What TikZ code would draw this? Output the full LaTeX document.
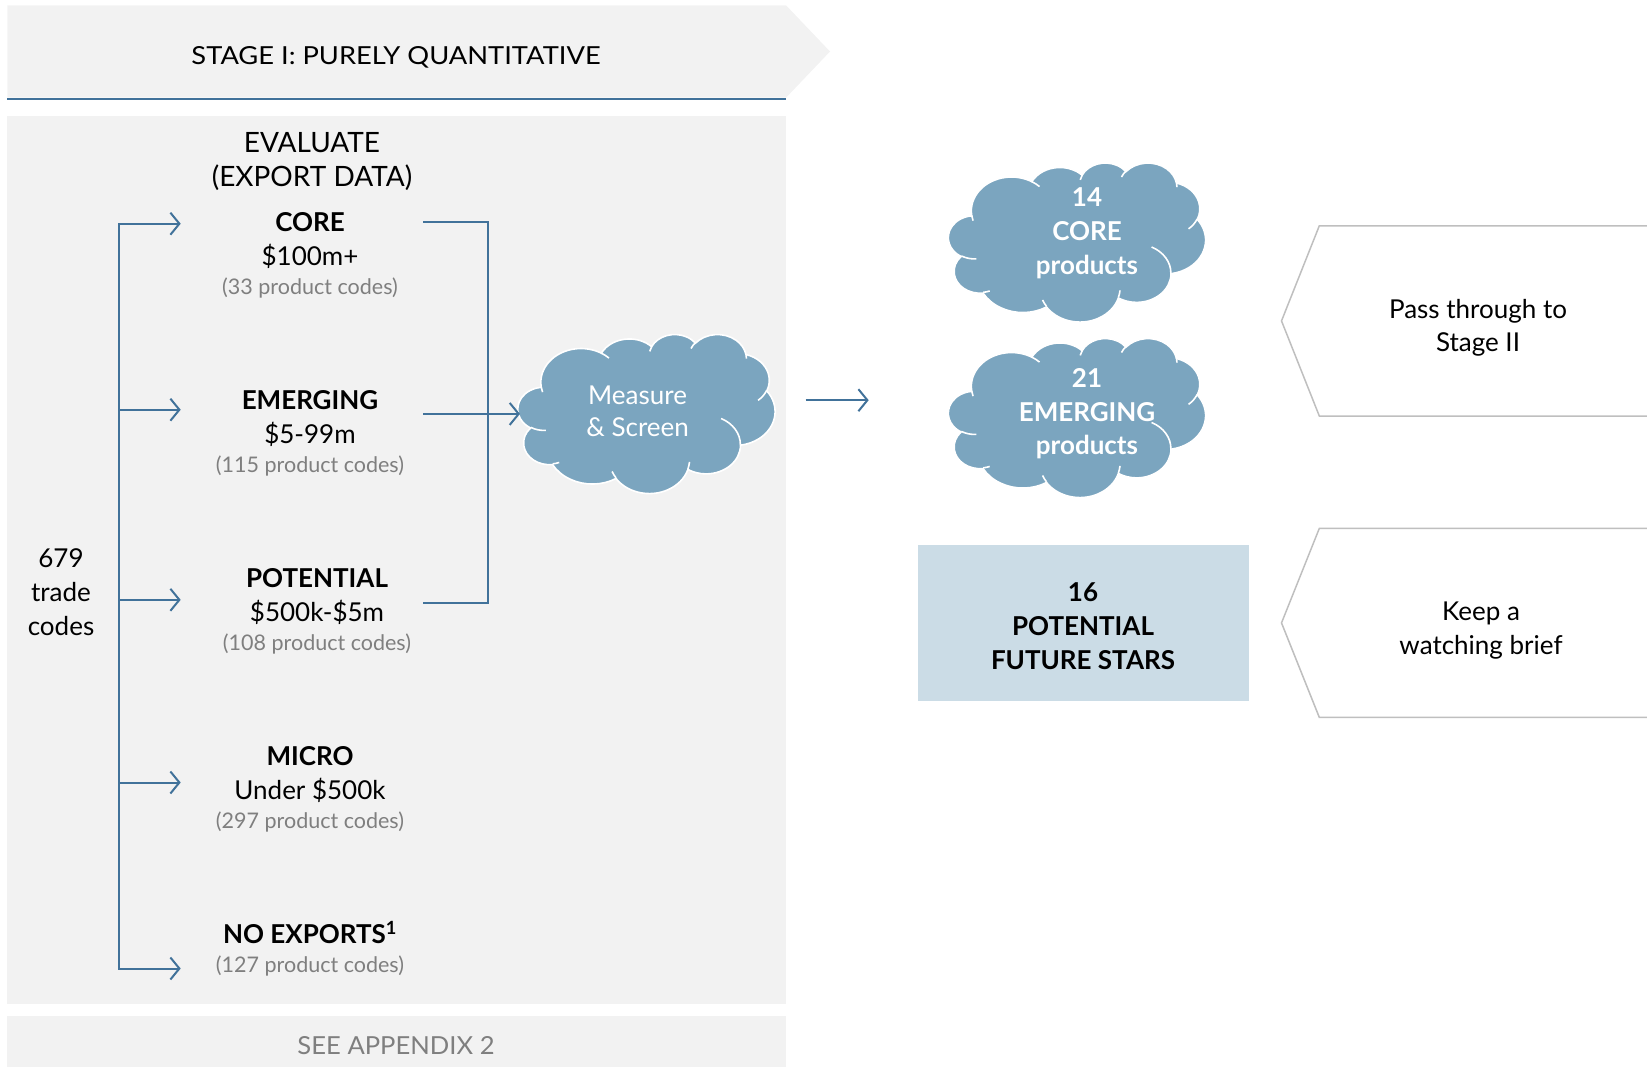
\documentclass[tikz,border=0pt]{standalone}
\usepackage{fontspec}
\setmainfont{Lato}
\usetikzlibrary{arrows.meta}
\definecolor{panel}{HTML}{F2F2F2}
\definecolor{lineblue}{HTML}{41729A}
\definecolor{cloudblue}{HTML}{7BA5BF}
\definecolor{boxblue}{HTML}{CBDCE6}
\definecolor{txtgray}{HTML}{7F7F7F}
\definecolor{hexgray}{HTML}{BFBFBF}
\makeatletter
\def\ooW{257}\def\ooH{159}
\newcommand\oodef[5]{%
  \pgfmathsetmacro\oo@a{#2/43.2*\ooW}%
  \pgfmathsetmacro\oo@b{#3/43.2*\ooH}%
  \pgfmathsetmacro\oo@s{#4}%
  \pgfmathsetmacro\oo@e{#4+#5}%
  \pgfmathsetmacro\oo@ts{\oo@s+Mod(atan2(#2*sin(\oo@s),#3*cos(\oo@s))-\oo@s+180,360)-180}%
  \pgfmathsetmacro\oo@te{\oo@e+Mod(atan2(#2*sin(\oo@e),#3*cos(\oo@e))-\oo@e+180,360)-180}%
  \expandafter\xdef\csname ooarc#1\endcsname{arc[x radius=\oo@a, y radius=\oo@b, start angle=\oo@ts, end angle=\oo@te]}%
}
\newcommand\oopt[2]{({#1/43.2*\ooW},{#2/43.2*\ooH})}
\makeatother
\oodef{A}{6.753}{9.190}{-190.4875}{123.7805}
\oodef{B}{5.333}{7.267}{-144.1024}{89.9452}
\oodef{C}{4.365}{5.945}{-145.8079}{99.7230}
\oodef{D}{4.857}{6.595}{-130.9861}{117.2417}
\oodef{E}{5.333}{7.273}{-78.7089}{109.0269}
\oodef{F}{6.775}{9.220}{-46.2673}{130.2690}
\oodef{G}{5.785}{7.867}{0.6250}{114.0333}
\oodef{H}{6.752}{9.215}{22.4516}{115.1726}
\oodef{I}{7.720}{10.543}{66.2426}{75.7110}
\oodef{J}{4.360}{5.918}{-274.9421}{146.7356}
\oodef{K}{4.345}{5.945}{-246.8285}{152.5189}
\oodef{a}{4.345}{5.945}{86.7420}{26.4295}
\oodef{b}{4.360}{5.918}{73.6105}{11.4475}
\oodef{c}{6.752}{9.215}{137.6242}{14.0811}
\oodef{d}{6.752}{9.215}{6.4533}{15.9984}
\oodef{e}{5.785}{7.867}{-70.2924}{70.9174}
\oodef{f}{5.333}{7.273}{30.3180}{27.7515}
\oodef{g}{4.857}{6.595}{-13.7443}{14.8570}
\oodef{h}{4.857}{6.595}{-149.1815}{18.1954}
\oodef{i}{4.365}{5.945}{-163.4943}{17.6864}
\oodef{j}{6.753}{9.190}{-66.7070}{12.3194}
\oodef{k}{6.753}{9.190}{157.6544}{11.8582}
\newcommand\oocloud[2]{%
\begin{scope}[shift={(#1,#2)}]
\path[fill=cloudblue, draw=white, line width=1.6pt] \oopt{3.900}{14.370}
  \ooarcA \ooarcB \ooarcC \ooarcD \ooarcE \ooarcF \ooarcG \ooarcH \ooarcI \ooarcJ \ooarcK -- cycle;
\draw[white, line width=1.6pt]
  \oopt{4.693}{26.177} \ooarca
  \oopt{6.928}{34.899} \ooarcb
  \oopt{16.478}{39.090} \ooarcc
  \oopt{28.827}{34.751} \ooarcd
  \oopt{34.129}{22.954} \ooarce
  \oopt{41.798}{15.354} \ooarcf
  \oopt{38.324}{5.426} \ooarcg
  \oopt{29.078}{3.952} \ooarch
  \oopt{22.141}{4.720} \ooarci
  \oopt{14.000}{5.192} \ooarcj
  \oopt{4.127}{15.789} \ooarck;
\end{scope}}
\begin{document}
\begin{tikzpicture}[x=1pt,y=-1pt,
  conn/.style={draw=lineblue, line width=2pt},
  tip/.tip={Straight Barb[length=9pt,width=22pt]},
  arr/.style={conn,-tip},
  big/.style={inner sep=0pt, anchor=base, font=\fontsize{26}{33.5}\selectfont},
  bigb/.style={big, font=\fontsize{26}{33.5}\selectfont\bfseries},
  small/.style={inner sep=0pt, anchor=base, text=txtgray, font=\fontsize{21.5}{26}\selectfont},
  cloudspot/.style={rectangle, inner sep=0pt, minimum width=257pt, minimum height=159pt},
  hexbox/.style={draw=hexgray, line width=1.5pt, fill=white}
]
\useasboundingbox (0,0) rectangle (1647,1066);
% header
\path[fill=panel] (7.4,5.3) -- (786,5.3) -- (830,51.5) -- (786,97.7) -- (7.4,97.7) -- cycle;
\draw[lineblue, line width=2pt] (7.4,99) -- (786,99);
\node[inner sep=0pt, anchor=base] (head) at (396,64.7) {\resizebox{409pt}{18pt}{STAGE I: PURELY QUANTITATIVE}};
% panels
\fill[panel] (7.4,115.5) rectangle (786,1004);
\fill[panel] (7.4,1016) rectangle (786,1070);
\node[inner sep=0pt, anchor=base, text=txtgray] (appx) at (396,1054) {\resizebox{197pt}{18pt}{SEE APPENDIX 2}};
% evaluate
\node[big, font=\fontsize{28}{34}\selectfont] (ev1) at (312,152.5) {EVALUATE};
\node[big, font=\fontsize{28}{34}\selectfont] (ev2) at (312,186) {(EXPORT DATA)};
% left label
\node[big] (tc1) at (61,567.4) {679};
\node[big] (tc2) at (61,601.4) {trade};
\node[big] (tc3) at (61,635.4) {codes};
% categories
\node[bigb] (coreA) at (310,231) {CORE};
\node[big] (coreB) at (310,265.7) {\$100m+};
\node[small] (coreC) at (310,294.8) {(33 product codes)};
\node[bigb] (emA) at (310,409.6) {EMERGING};
\node[big] (emB) at (310,443.2) {\$5-99m};
\node[small] (emC) at (310,472.3) {(115 product codes)};
\node[bigb] (poA) at (317,587.1) {POTENTIAL};
\node[big] (poB) at (317,621.8) {\$500k-\$5m};
\node[small] (poC) at (317,650.8) {(108 product codes)};
\node[bigb] (miA) at (310,765.7) {MICRO};
\node[big] (miB) at (310,799.4) {Under \$500k};
\node[small] (miC) at (310,828.4) {(297 product codes)};
\node[bigb] (noA) at (310,943.2) {NO EXPORTS\textsuperscript{1}};
\node[small] (noC) at (310,972.3) {(127 product codes)};
% left tree
\coordinate (t1) at (118.7,223.7); \coordinate (e1) at (180.7,223.7);
\coordinate (t2) at (118.7,409.7); \coordinate (e2) at (180.7,409.7);
\coordinate (t3) at (118.7,599.8); \coordinate (e3) at (180.7,599.8);
\coordinate (t4) at (118.7,782.5); \coordinate (e4) at (180.7,782.5);
\coordinate (t5) at (118.7,968.5); \coordinate (e5) at (180.7,968.5);
\draw[conn, tip-tip] (e1) -- (t1) -- (t5) -- (e5);
\draw[arr] (t2) -- (e2);
\draw[arr] (t3) -- (e3);
\draw[arr] (t4) -- (e4);
% measure cloud
\oocloud{518}{334}
\node[cloudspot] (meas) at (646.5,413.5) {};
\node[big, text=white] (ms1) at (637.6,404.4) {Measure};
\node[big, text=white] (ms2) at (637.6,436.9) {\& Screen};
% right bracket
\coordinate (r1) at (423.3,221.6); \coordinate (c1) at (488.4,221.6);
\coordinate (r3) at (423.3,603); \coordinate (c3) at (488.4,603);
\coordinate (r2) at (423.3,413.9); \coordinate (m2) at (520,413.9);
\draw[conn] (r1) -- (c1) -- (c3) -- (r3);
\draw[arr] (r2) -- (m2);
% arrow to results
\coordinate (a1) at (805.7,400.2); \coordinate (a2) at (868.7,400.2);
\draw[arr] (a1) -- (a2);
% result clouds
\oocloud{948.5}{162.5}
\node[cloudspot] (cl1) at (1077,242) {};
\node[bigb, text=white] (c1a) at (1087,206.9) {14};
\node[bigb, text=white] (c1b) at (1087,240.4) {CORE};
\node[bigb, text=white] (c1c) at (1087,274.1) {products};
\oocloud{948.5}{338}
\node[cloudspot] (cl2) at (1077,417.5) {};
\node[bigb, text=white] (c2a) at (1087,387.4) {21};
\node[bigb, text=white] (c2b) at (1087,421.2) {EMERGING};
\node[bigb, text=white] (c2c) at (1087,454.8) {products};
% potential box
\fill[boxblue] (918,545) rectangle (1249,700.6);
\node[bigb] (bx1) at (1083,601.8) {16};
\node[bigb] (bx2) at (1083,635.4) {POTENTIAL};
\node[bigb] (bx3) at (1083,669.1) {FUTURE STARS};
% hex arrows
\path[hexbox] (1650,225.8) -- (1319.3,225.8) -- (1281.5,320.9) -- (1319.3,416) -- (1650,416);
\node[big] (h1a) at (1478,318.2) {Pass through to};
\node[big] (h1b) at (1478,351.8) {Stage II};
\path[hexbox] (1650,528.4) -- (1319.3,528.4) -- (1281.5,622.9) -- (1319.3,717.4) -- (1650,717.4);
\node[big] (h2a) at (1481,620.7) {Keep a};
\node[big] (h2b) at (1481,654.4) {watching brief};
\end{tikzpicture}
\end{document}
